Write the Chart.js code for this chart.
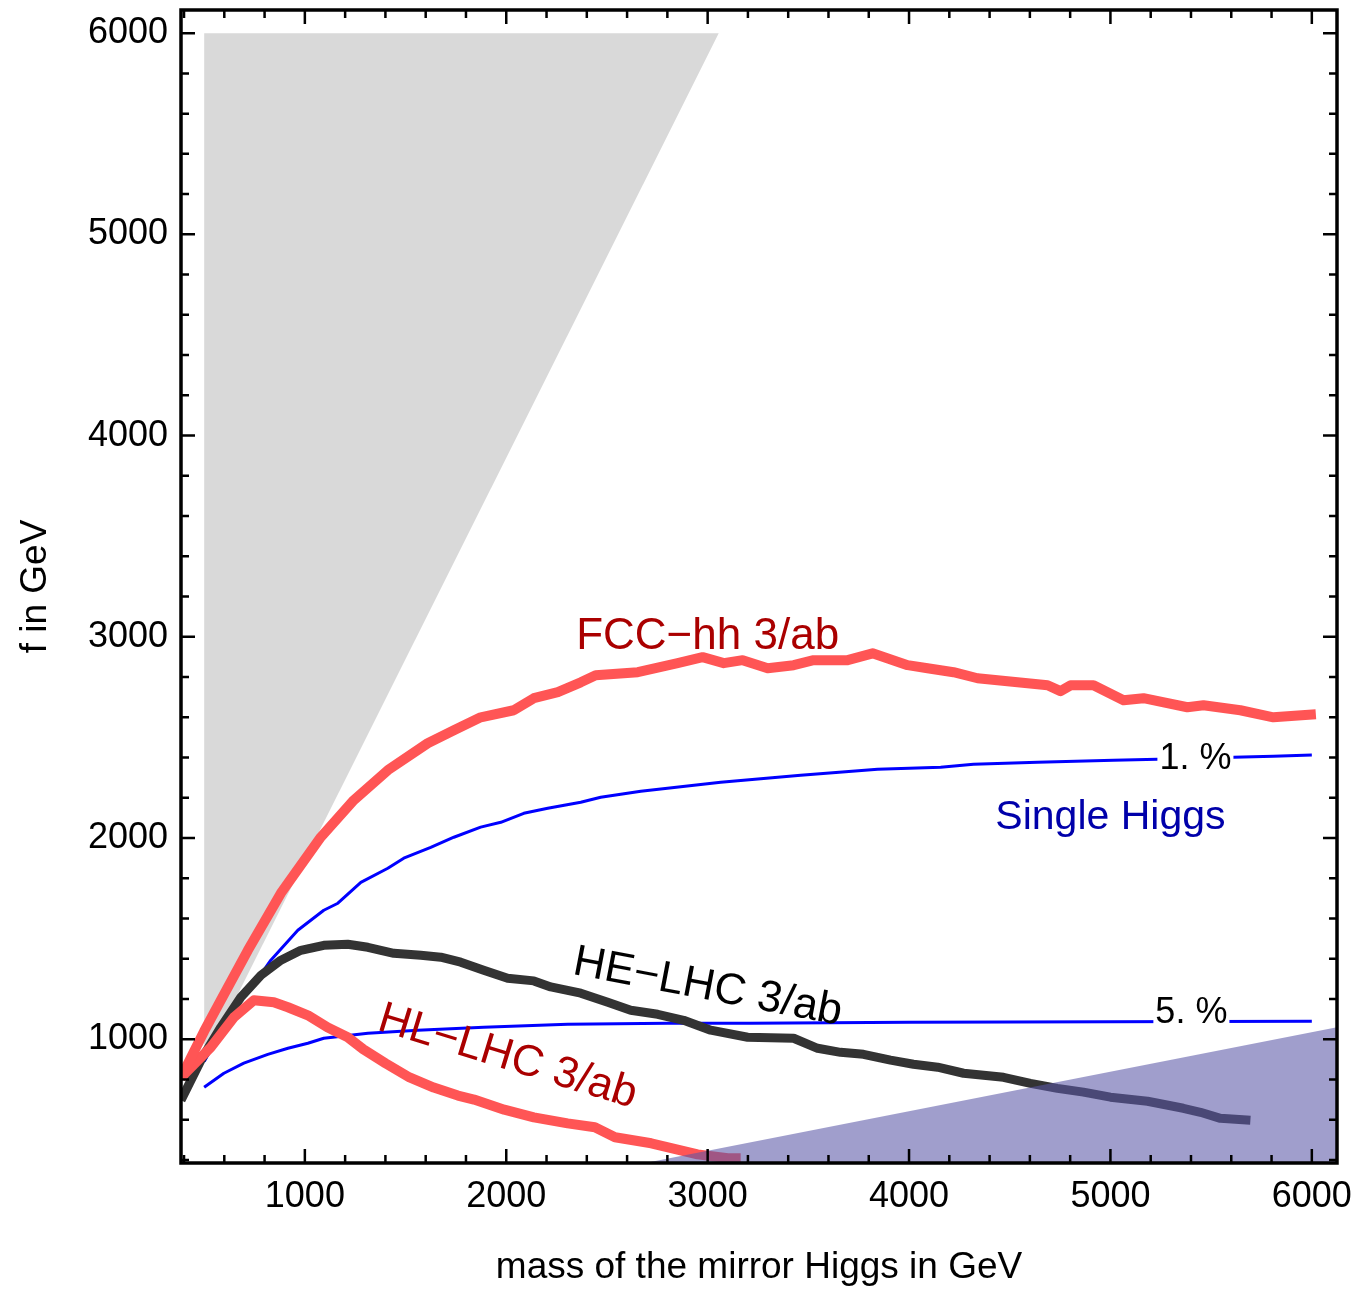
<!DOCTYPE html>
<html>
<head>
<meta charset="utf-8">
<script src="https://cdn.jsdelivr.net/npm/chart.js@4.4.1/dist/chart.umd.min.js"></script>
<style>
    body { margin: 0; background: #fff; }
    #contenedor { width: 1362px; height: 1290px; }
</style>
</head>
<body>
<div id="contenedor"><canvas id="graficoLineas" width="1362" height="1290"></canvas></div>
<script>
// Ejes (GeV)
const rangoMasa = [385, 6125];
const rangoF = [385, 6115];
const ticksMasa = [400, 600, 800, 1000, 1200, 1400, 1600, 1800, 2000, 2200, 2400, 2600, 2800, 3000,
    3200, 3400, 3600, 3800, 4000, 4200, 4400, 4600, 4800, 5000, 5200, 5400, 5600, 5800, 6000];
const ticksF = [400, 600, 800, 1000, 1200, 1400, 1600, 1800, 2000, 2200, 2400, 2600, 2800, 3000,
    3200, 3400, 3600, 3800, 4000, 4200, 4400, 4600, 4800, 5000, 5200, 5400, 5600, 5800, 6000];

// FCC-hh 3/ab
const masaFcc = [385, 500, 583, 717, 881, 1079, 1243, 1412, 1610, 1740, 1873, 2037, 2137, 2256, 2370,
    2444, 2653, 2851, 2975, 3080, 3174, 3298, 3427, 3526, 3695, 3819, 3993, 4092, 4221, 4340, 4539,
    4688, 4752, 4802, 4916, 5065, 5164, 5382, 5462, 5645, 5809, 6020];
const fFcc = [810, 1040, 1194, 1442, 1726, 2004, 2188, 2337, 2471, 2536, 2600, 2635, 2695, 2725, 2774,
    2809, 2824, 2869, 2899, 2869, 2884, 2844, 2859, 2884, 2884, 2918, 2859, 2844, 2824, 2794, 2774,
    2759, 2730, 2759, 2759, 2685, 2695, 2650, 2660, 2635, 2600, 2615];

// HE-LHC 3/ab
const masaHe = [385, 484, 583, 682, 782, 881, 980, 1094, 1213, 1313, 1442, 1576, 1675, 1774, 1888,
    2007, 2137, 2221, 2370, 2504, 2618, 2752, 2881, 3015, 3199, 3427, 3546, 3660, 3774, 3908, 4022,
    4142, 4271, 4469, 4603, 4737, 4866, 5000, 5184, 5362, 5447, 5546, 5695];
const fHe = [697, 896, 1060, 1209, 1318, 1393, 1442, 1467, 1472, 1457, 1427, 1417, 1408, 1383, 1343,
    1303, 1290, 1260, 1229, 1184, 1144, 1124, 1094, 1045, 1010, 1005, 955, 935, 925, 896, 876,
    861, 831, 811, 781, 756, 737, 712, 692, 657, 637, 607, 597];

// HL-LHC 3/ab
const masaHl = [385, 533, 648, 747, 846, 916, 1015, 1114, 1213, 1290, 1400, 1520, 1640, 1760, 1840,
    1990, 2137, 2305, 2440, 2540, 2720, 2950, 3100, 3164];
const fHl = [810, 960, 1109, 1194, 1184, 1159, 1119, 1058, 1010, 950, 881, 810, 760, 720, 700,
    650, 612, 582, 563, 513, 483, 428, 409, 409];

// Single Higgs, contornos de 1 % y 5 %
const masaUno = [500, 600, 700, 780, 831, 965, 1094, 1164, 1278, 1412, 1491, 1625, 1740, 1873, 1973,
    2087, 2206, 2370, 2469, 2668, 3065, 3462, 3844, 4157, 4320, 4638, 5015, 5233, 5611, 5809, 6000];
const fUno = [890, 1065, 1220, 1320, 1393, 1542, 1641, 1676, 1780, 1850, 1900, 1954, 2004, 2054, 2078,
    2123, 2148, 2178, 2203, 2233, 2277, 2312, 2342, 2352, 2367, 2377, 2387, 2392, 2402, 2407, 2412];
const masaCinco = [500, 598, 697, 816, 916, 1015, 1094, 1313, 1561, 1888, 2305, 2802, 3214, 4000, 5000, 6000];
const fCinco = [761, 831, 881, 925, 955, 980, 1005, 1030, 1045, 1060, 1075, 1080, 1080, 1085, 1087, 1089];

// Regiones sombreadas
const masaGris = [500, 500, 3055];
const fGris = [890, 6000, 6000];
const masaMorada = [2690, 6125, 6125];
const fMorada = [385, 1060, 385];

// Textos sobre el gráfico (posición en GeV)
const etiquetas = [
    { texto: 'FCC\u2212hh 3/ab', m: 3000, f: 3000, angulo: 0, color: '#aa0000', tam: 44 },
    { texto: 'HE\u2212LHC 3/ab', m: 3000, f: 1258, angulo: 10.8, color: '#000000', tam: 44 },
    { texto: 'HL\u2212LHC 3/ab', m: 2007, f: 911, angulo: 17, color: '#aa0000', tam: 44 },
    { texto: 'Single Higgs', m: 5000, f: 2100, angulo: 0, color: '#0000aa', tam: 41 }
];
const etiquetasContorno = [
    { texto: '1. %', m: 5422, f: 2390 },
    { texto: '5. %', m: 5402, f: 1129 }
];

const FUENTE = '"Liberation Sans", Arial, sans-serif';

function puntos(xs, ys) {
    return xs.map((x, i) => ({ x: x, y: ys[i] }));
}

const marcoPlugin = {
    id: 'marco',
    afterDatasetsDraw: function(chart) {
        const ctx = chart.ctx;
        const xScale = chart.scales['x'];
        const yScale = chart.scales['y'];
        const { left, right, top, bottom } = chart.chartArea;

        // Etiquetas de las curvas
        etiquetas.forEach(e => {
            ctx.save();
            ctx.translate(xScale.getPixelForValue(e.m), yScale.getPixelForValue(e.f));
            ctx.rotate(e.angulo * Math.PI / 180);
            ctx.font = e.tam + 'px ' + FUENTE;
            ctx.fillStyle = e.color;
            ctx.textAlign = 'center';
            ctx.textBaseline = 'middle';
            ctx.fillText(e.texto, 0, 0);
            ctx.restore();
        });

        // Etiquetas de contorno con fondo blanco
        etiquetasContorno.forEach(e => {
            const px = xScale.getPixelForValue(e.m);
            const py = yScale.getPixelForValue(e.f);
            ctx.save();
            ctx.font = '36px ' + FUENTE;
            const ancho = ctx.measureText(e.texto).width;
            ctx.fillStyle = '#fff';
            ctx.fillRect(px - ancho / 2 - 2, py - 18, ancho + 4, 36);
            ctx.fillStyle = '#000';
            ctx.textAlign = 'center';
            ctx.textBaseline = 'middle';
            ctx.fillText(e.texto, px, py);
            ctx.restore();
        });

        // Marco y marcas hacia dentro en los cuatro lados
        ctx.save();
        ctx.strokeStyle = '#000';
        ctx.lineWidth = 2.5;
        ctx.beginPath();
        xScale.ticks.forEach(t => {
            const px = xScale.getPixelForValue(t.value);
            const largo = t.value % 1000 === 0 ? 14 : 8;
            ctx.moveTo(px, bottom);
            ctx.lineTo(px, bottom - largo);
            ctx.moveTo(px, top);
            ctx.lineTo(px, top + largo);
        });
        yScale.ticks.forEach(t => {
            const py = yScale.getPixelForValue(t.value);
            const largo = t.value % 1000 === 0 ? 14 : 8;
            ctx.moveTo(left, py);
            ctx.lineTo(left + largo, py);
            ctx.moveTo(right, py);
            ctx.lineTo(right - largo, py);
        });
        ctx.stroke();
        ctx.lineWidth = 3.5;
        ctx.strokeRect(left, top, right - left, bottom - top);
        ctx.restore();
    }
};

function curva(datos, color, ancho, orden) {
    return {
        data: datos,
        borderColor: color,
        borderWidth: ancho,
        borderJoinStyle: 'round',
        borderCapStyle: 'butt',
        pointRadius: 0,
        tension: 0,
        showLine: true,
        fill: false,
        clip: 0,
        order: orden
    };
}

function region(datos, color, orden) {
    return {
        data: datos,
        borderWidth: 0,
        borderColor: 'rgba(0,0,0,0)',
        backgroundColor: color,
        pointRadius: 0,
        showLine: true,
        fill: 'shape',
        clip: 0,
        order: orden
    };
}

function inicializarGrafico() {
    const ctx = document.getElementById('graficoLineas').getContext('2d');

    new Chart(ctx, {
        type: 'scatter',
        data: {
            datasets: [
                region(puntos(masaMorada, fMorada), 'rgba(91,88,167,0.58)', 0),
                curva(puntos(masaFcc, fFcc), 'rgb(255,85,85)', 10, 1),
                curva(puntos(masaHl, fHl), 'rgb(255,85,85)', 10, 2),
                curva(puntos(masaHe, fHe), '#333333', 9, 3),
                curva(puntos(masaUno, fUno), '#0000ff', 3, 4),
                curva(puntos(masaCinco, fCinco), '#0000ff', 3, 5),
                region(puntos(masaGris, fGris), '#d9d9d9', 10)
            ]
        },
        options: {
            responsive: false,
            animation: false,
            devicePixelRatio: 1,
            layout: { padding: { top: 10, right: 25, left: 0, bottom: 0 } },
            plugins: {
                legend: { display: false },
                tooltip: { enabled: false }
            },
            scales: {
                x: {
                    type: 'linear',
                    position: 'bottom',
                    min: rangoMasa[0],
                    max: rangoMasa[1],
                    afterBuildTicks: scale => { scale.ticks = ticksMasa.map(v => ({ value: v })); },
                    afterFit: scale => {
                        scale.height = 127;
                        // sin margen extra por las etiquetas de los extremos
                        scale.paddingLeft = 0;
                        scale.paddingRight = 0;
                    },
                    grid: { display: false, drawTicks: false },
                    border: { display: false },
                    ticks: {
                        autoSkip: false,
                        maxRotation: 0,
                        padding: 12,
                        color: '#000',
                        font: { family: FUENTE, size: 36 },
                        callback: v => (v % 1000 === 0 ? String(v) : '')
                    },
                    title: {
                        display: true,
                        text: 'mass of the mirror Higgs in GeV',
                        color: '#000',
                        font: { family: FUENTE, size: 37 },
                        padding: { top: 0, bottom: 0 }
                    }
                },
                y: {
                    type: 'linear',
                    position: 'left',
                    min: rangoF[0],
                    max: rangoF[1],
                    afterBuildTicks: scale => { scale.ticks = ticksF.map(v => ({ value: v })); },
                    afterFit: scale => {
                        scale.width = 181;
                        scale.paddingTop = 0;
                        scale.paddingBottom = 0;
                    },
                    grid: { display: false, drawTicks: false },
                    border: { display: false },
                    ticks: {
                        autoSkip: false,
                        padding: 13,
                        color: '#000',
                        font: { family: FUENTE, size: 36 },
                        callback: v => (v % 1000 === 0 ? String(v) : '')
                    },
                    title: {
                        display: true,
                        text: 'f in GeV',
                        color: '#000',
                        font: { family: FUENTE, size: 37 },
                        padding: { top: 14, bottom: 0 }
                    }
                }
            }
        },
        plugins: [marcoPlugin]
    });
}

document.addEventListener('DOMContentLoaded', () => {
    inicializarGrafico();
});
</script>
</body>
</html>
